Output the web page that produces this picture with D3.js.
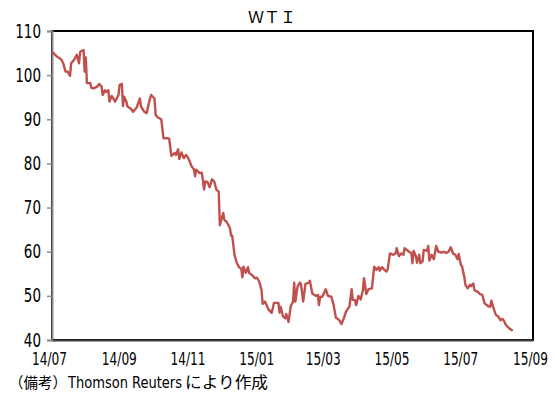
<!DOCTYPE html>
<html><head><meta charset="utf-8">
<script src="https://cdn.jsdelivr.net/npm/d3@7"></script>
<style>body{margin:0;background:#fff}svg{display:block}</style>
</head><body>
<svg id="c" width="556" height="394"></svg>
<script>
const title = "ＷＴＩ";
const footnote = ["（備考）", "Thomson Reuters", "により作成"];
const yTicks = [40, 50, 60, 70, 80, 90, 100, 110];
const xTickLabels = ["14/07","14/09","14/11","15/01","15/03","15/05","15/07","15/09"];
const xTickDates = ["2014-07-01","2014-09-01","2014-11-01","2015-01-01","2015-03-01","2015-05-01","2015-07-01","2015-09-01"];
const dates = [
"2014-07-01","2014-07-05","2014-07-09","2014-07-11","2014-07-13","2014-07-15","2014-07-17","2014-07-18","2014-07-21","2014-07-23",
"2014-07-25","2014-07-26","2014-07-29","2014-07-30","2014-07-31","2014-08-01","2014-08-04","2014-08-05","2014-08-07","2014-08-10",
"2014-08-12","2014-08-14","2014-08-15","2014-08-17","2014-08-18","2014-08-20","2014-08-21","2014-08-23","2014-08-24","2014-08-26",
"2014-08-29","2014-08-30","2014-09-01","2014-09-02","2014-09-03","2014-09-05","2014-09-06","2014-09-09","2014-09-11","2014-09-14",
"2014-09-17","2014-09-18","2014-09-21","2014-09-23","2014-09-26","2014-09-27","2014-09-30","2014-10-01","2014-10-03","2014-10-06",
"2014-10-08","2014-10-12","2014-10-13","2014-10-15","2014-10-18","2014-10-19","2014-10-21","2014-10-22","2014-10-24","2014-10-26",
"2014-10-28","2014-10-30","2014-11-02","2014-11-04","2014-11-05","2014-11-06","2014-11-09","2014-11-11","2014-11-13","2014-11-14",
"2014-11-16","2014-11-18","2014-11-20","2014-11-22","2014-11-24","2014-11-26","2014-11-27","2014-11-29","2014-11-30","2014-12-01",
"2014-12-03","2014-12-06","2014-12-07","2014-12-08","2014-12-10","2014-12-12","2014-12-14","2014-12-16","2014-12-17","2014-12-18",
"2014-12-20","2014-12-22","2014-12-23","2014-12-26","2014-12-28","2014-12-30","2015-01-01","2015-01-03","2015-01-04","2015-01-06",
"2015-01-07","2015-01-09","2015-01-12","2015-01-13","2015-01-14","2015-01-16","2015-01-18","2015-01-19","2015-01-20","2015-01-22",
"2015-01-24","2015-01-25","2015-01-27","2015-01-29","2015-01-31","2015-02-01","2015-02-02","2015-02-04","2015-02-06","2015-02-07",
"2015-02-09","2015-02-11","2015-02-14","2015-02-15","2015-02-17","2015-02-20","2015-02-22","2015-02-23","2015-02-24","2015-02-26",
"2015-03-01","2015-03-03","2015-03-06","2015-03-08","2015-03-10","2015-03-13","2015-03-15","2015-03-17","2015-03-19","2015-03-21",
"2015-03-22","2015-03-24","2015-03-25","2015-03-27","2015-03-28","2015-03-30","2015-04-01","2015-04-03","2015-04-04","2015-04-06",
"2015-04-08","2015-04-11","2015-04-13","2015-04-15","2015-04-17","2015-04-18","2015-04-20","2015-04-22","2015-04-24","2015-04-25",
"2015-04-27","2015-04-30","2015-05-02","2015-05-03","2015-05-05","2015-05-07","2015-05-09","2015-05-10","2015-05-14","2015-05-16",
"2015-05-17","2015-05-18","2015-05-20","2015-05-21","2015-05-23","2015-05-24","2015-05-26","2015-05-27","2015-05-30","2015-05-31",
"2015-06-01","2015-06-03","2015-06-05","2015-06-07","2015-06-09","2015-06-12","2015-06-14","2015-06-16","2015-06-18","2015-06-20",
"2015-06-22","2015-06-24","2015-06-26","2015-06-27","2015-06-29","2015-06-30","2015-07-02","2015-07-03","2015-07-05","2015-07-07",
"2015-07-08","2015-07-10","2015-07-11","2015-07-14","2015-07-16","2015-07-18","2015-07-20","2015-07-23","2015-07-25","2015-07-26",
"2015-07-28","2015-07-30","2015-08-01","2015-08-03","2015-08-05","2015-08-06","2015-08-08","2015-08-11","2015-08-14"];
const prices = [
105.3,104.3,103.6,102.7,100.8,100.8,99.8,102.7,103.6,104.6,
102.7,105.3,105.7,100.8,104.0,98.2,98.2,97.1,97.0,97.4,
98.0,97.4,95.5,96.6,96.2,96.6,94.0,95.3,94.9,94.0,
95.5,97.8,98.0,93.0,95.1,94.0,92.9,92.4,91.7,92.6,
94.7,92.9,91.7,91.4,94.7,95.5,94.7,91.0,90.4,90.0,
85.7,85.7,85.6,81.7,82.4,81.9,83.2,81.0,82.5,81.2,
81.9,81.2,79.3,78.7,77.1,78.6,77.8,77.9,74.1,75.9,
75.8,74.6,76.4,75.9,74.0,73.6,66.0,67.9,68.8,67.2,
66.8,65.3,63.6,63.6,59.3,57.5,56.5,56.2,54.2,56.6,
55.2,56.5,55.2,54.6,54.0,54.1,53.2,51.3,48.2,48.7,
48.2,47.0,46.1,47.2,48.4,48.4,48.4,46.2,47.5,45.4,
44.9,45.9,44.1,47.7,48.7,53.0,48.7,52.1,53.0,52.7,
48.7,52.7,53.0,53.4,50.6,50.0,50.2,47.9,49.8,49.8,
51.5,50.0,49.8,47.9,45.1,44.5,43.6,44.9,46.4,47.2,
47.5,51.5,49.1,49.0,47.9,50.0,49.2,51.3,54.0,50.4,
51.5,51.7,56.6,55.9,56.5,55.7,56.5,55.9,55.5,56.0,
59.6,59.3,59.6,60.8,59.0,59.6,59.3,60.8,60.0,59.7,
57.4,60.2,59.0,57.5,59.3,57.4,57.8,60.4,60.2,61.3,
58.0,59.3,58.3,61.3,60.0,59.8,60.0,59.7,60.0,61.0,
59.6,59.3,58.3,59.5,57.0,56.7,54.3,52.5,51.7,52.5,
52.2,52.8,51.3,50.9,50.4,50.2,48.3,47.7,47.5,48.9,
47.2,45.7,45.4,44.5,44.8,44.4,43.4,42.6,42.1];

const svg = d3.select("#c");
svg.append("rect").attr("width",556).attr("height",394).attr("fill","#fff");
const L = 52, R = 533, T = 31, B = 340;
const parse = d3.timeParse("%Y-%m-%d");
const x = d3.scaleTime().domain([parse("2014-07-01"), parse("2015-09-01")]).range([L, R]);
const y = d3.scaleLinear().domain([40, 110]).range([B, T]);
const numFont = "'Liberation Sans Narrow','DejaVu Sans Condensed','Arial Narrow',sans-serif";
const cjkFont = "'Noto Sans CJK JP','Noto Sans',sans-serif";

// frame
svg.append("rect").attr("x",L).attr("y",T).attr("width",R-L).attr("height",B-T)
  .attr("fill","none").attr("stroke","#000").attr("stroke-width",2);

// y axis
const yAxis = d3.axisLeft(y).tickValues(yTicks).tickSize(5).tickPadding(6);
const gy = svg.append("g").attr("transform",`translate(${L},0)`).call(yAxis);
gy.select(".domain").attr("stroke","#8c8c8c").attr("stroke-width",2);
gy.selectAll(".tick line").attr("stroke","#8c8c8c").attr("stroke-width",1.5);
gy.selectAll(".tick text").attr("font-family",numFont).attr("font-size",19).attr("fill","#000")
  .attr("textLength", d => String(d).length * 8.6).attr("lengthAdjust","spacingAndGlyphs");

// x axis
const xAxis = d3.axisBottom(x).tickValues(xTickDates.map(parse))
  .tickFormat((d,i) => xTickLabels[i]).tickSize(0).tickPadding(13);
const gx = svg.append("g").attr("transform",`translate(0,${B})`).call(xAxis);
gx.select(".domain").attr("stroke","#404040").attr("stroke-width",2);
gx.selectAll(".tick text").attr("font-family",numFont).attr("font-size",17).attr("fill","#000")
  .attr("dx",-3).attr("textLength",35).attr("lengthAdjust","spacingAndGlyphs");

// line
const data = dates.map((d,i) => ({d: parse(d), v: prices[i]}));
svg.append("path").datum(data)
  .attr("fill","none").attr("stroke","#C0504D").attr("stroke-width",2.4)
  .attr("stroke-linejoin","round")
  .attr("d", d3.line().x(p => x(p.d)).y(p => y(p.v)));

// title
svg.append("text").attr("x",272).attr("y",23).attr("text-anchor","middle")
  .attr("font-family",cjkFont).attr("font-size",16).attr("fill","#000").text(title);

// footnote (single text, three tspans)
const ft = svg.append("text").attr("y",388).attr("fill","#000");
ft.append("tspan").attr("x",9).attr("font-family",cjkFont).attr("font-size",15)
  .attr("textLength",58).attr("lengthAdjust","spacingAndGlyphs").text(footnote[0]);
ft.append("tspan").attr("x",68).attr("font-family",numFont).attr("font-size",15.5)
  .attr("textLength",114).attr("lengthAdjust","spacingAndGlyphs").text(footnote[1]);
ft.append("tspan").attr("x",185).attr("font-family",cjkFont).attr("font-size",16)
  .attr("textLength",83).attr("lengthAdjust","spacingAndGlyphs").text(footnote[2]);
</script>
</body></html>
